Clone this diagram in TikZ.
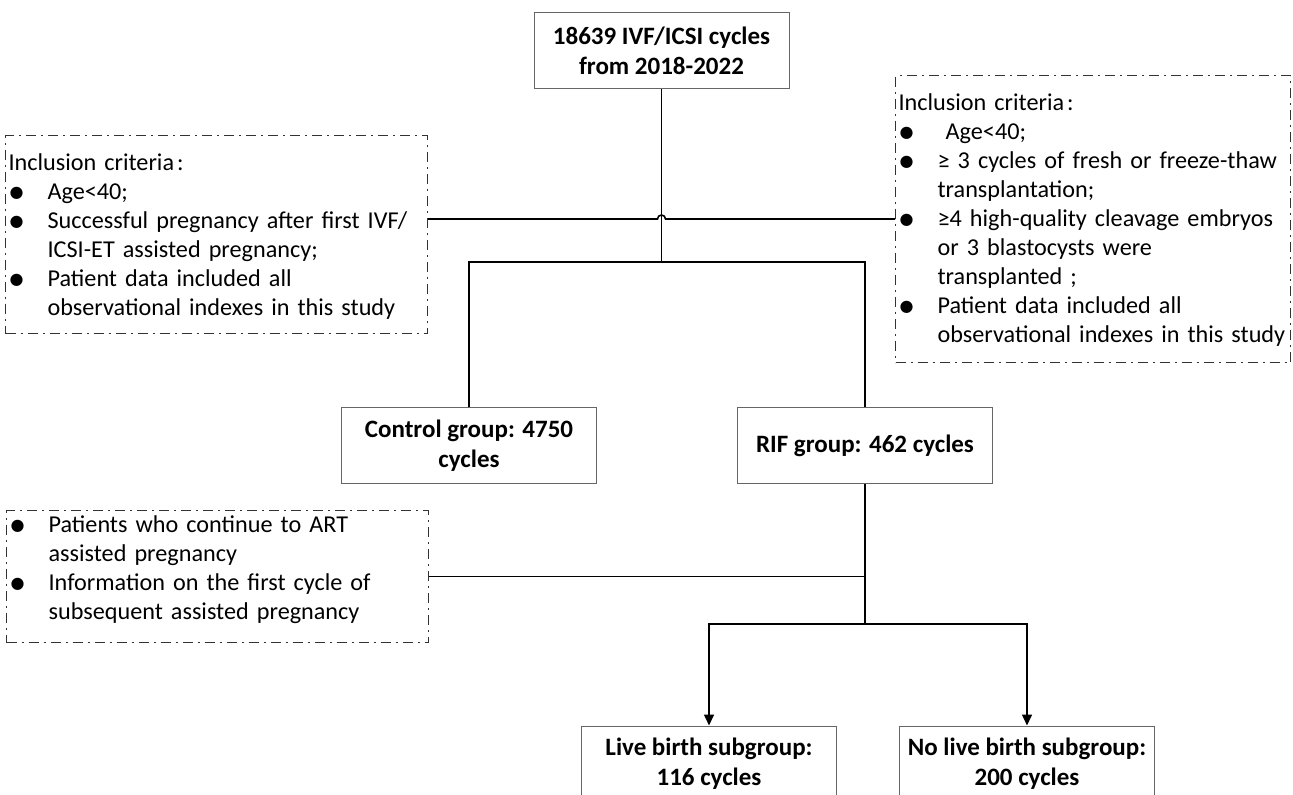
\documentclass[tikz,border=0pt]{standalone}
\usepackage{fontspec}
\setmainfont{Carlito}
\newfontfamily\dotfont{DejaVu Sans}
\usepackage{tikz}
\usetikzlibrary{arrows.meta}
\newcommand{\critdot}{\raisebox{1.1pt}{\dotfont\fontsize{8}{8}\selectfont ●}}
\newcommand{\bul}[1]{\mbox{\makebox[19.5pt][l]{\hspace*{0.5pt}\critdot}#1}}
\newcommand{\ind}[1]{\mbox{\hspace*{19.5pt}#1}}
\newcommand{\critcolon}{\hspace{1.5pt}:\hspace{2pt}}
\tikzset{
    box/.style={draw=black!60, line width=0.5pt, minimum width=127.5pt, minimum height=38pt,
        inner sep=0pt, align=center, font=\bfseries\fontsize{12.5}{15}\selectfont},
    crit/.style={draw=black!80, line width=0.6pt, dash pattern=on 5pt off 2.5pt on 1pt off 2.5pt,
        anchor=north west, align=left, inner xsep=1.5pt, inner ysep=0pt,
        font=\fontsize{12.1}{14.5}\selectfont},
    conn/.style={draw=black, line width=0.8pt},
    flow/.style={conn, -{Triangle[width=5pt,length=5.5pt]}}
}
\begin{document}
\begin{tikzpicture}[x=0.5pt,y=-0.5pt]
                \path[use as bounding box, fill=white] (0,0) rectangle (1293,795);
                \node[box] (total) at (661.5,51) {18639 IVF/ICSI cycles\\from 2018-2022};
                \node[box] (control) at (469,446) {Control group: 4750\\cycles};
                \node[box] (rif) at (865,446) {RIF group: 462 cycles};
                \node[box] (live) at (709,764) {Live birth subgroup:\\116 cycles};
                \node[box] (nolive) at (1027,764) {No live birth subgroup:\\200 cycles};
                \node[crit, text width=208pt, text height=17.5pt, text depth=81.5pt] (inclL) at (5,135)
                    {Inclusion criteria\critcolon\\
                     \bul{Age<40;}\\
                     \bul{Successful pregnancy after first IVF/}\\
                     \ind{ICSI-ET assisted pregnancy;}\\
                     \bul{Patient data included all}\\
                     \ind{observational indexes in this study}};
                \node[crit, text width=194.5pt, text height=17.5pt, text depth=126pt] (inclR) at (895,75)
                    {Inclusion criteria\critcolon\\
                     \bul{\ Age<40;}\\
                     \bul{≥ 3 cycles of fresh or freeze-thaw}\\
                     \ind{transplantation;}\\
                     \bul{≥4 high-quality cleavage embryos}\\
                     \ind{or 3 blastocysts were}\\
                     \ind{transplanted ;}\\
                     \bul{Patient data included all}\\
                     \ind{observational indexes in this study}};
                \node[crit, text width=208pt, text height=11pt, text depth=55pt] (follow) at (6,510)
                    {\bul{Patients who continue to ART}\\
                     \ind{assisted pregnancy}\\
                     \bul{Information on the first cycle of}\\
                     \ind{subsequent assisted pregnancy}};
                \coordinate (hop) at (661.5,219);
                \coordinate (split) at (661.5,262);
                \coordinate (fork) at (865,624);
                \draw[conn] (total.south) -- (split);
                \draw[conn] (inclL.east |- hop) -- ([xshift=-2pt]hop) arc[start angle=180, end angle=360, radius=4] -- (inclR.west |- hop);
                \draw[conn] (control.north) |- (split) -| (rif.north);
                \draw[conn] (rif.south) -- (fork);
                \draw[conn] (follow.east) -- (follow.east -| fork);
                \draw[flow] (fork) -| (live.north);
                \draw[flow] (fork) -| (nolive.north);
            \end{tikzpicture}
\end{document}
